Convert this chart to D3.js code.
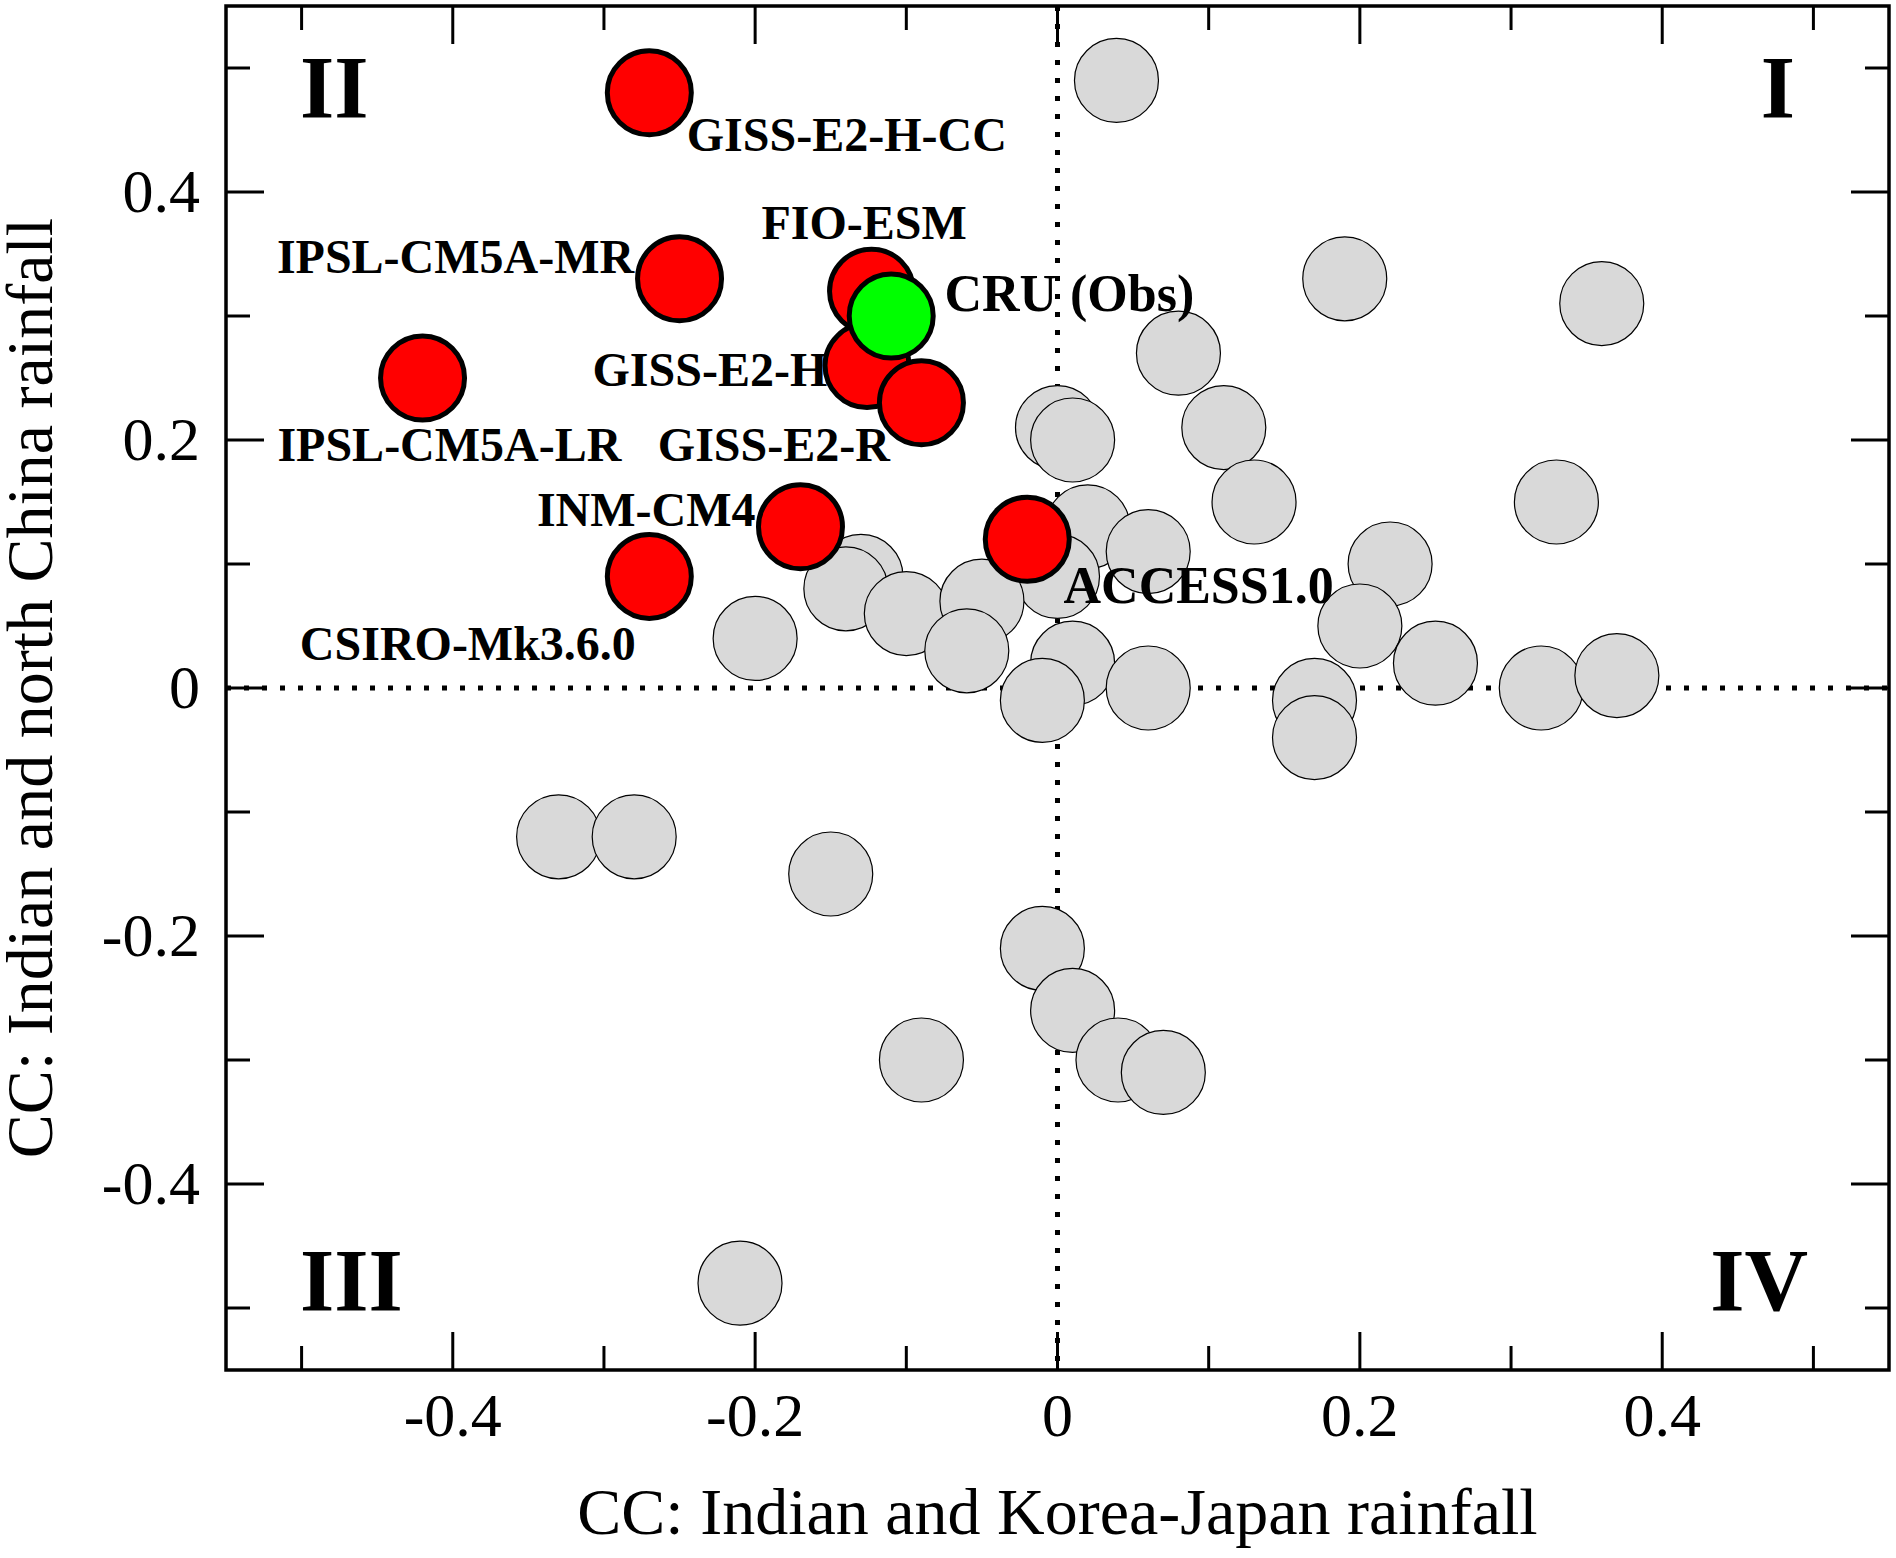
<!DOCTYPE html>
<html><head><meta charset="utf-8">
<script src="https://cdn.jsdelivr.net/npm/d3@7"></script>
<style>body{margin:0;background:#fff}text{font-family:"Liberation Serif","Times New Roman",serif}</style>
</head><body>
<svg id="chart" width="1896" height="1558"></svg>
<script>
// other CMIP5 models (grey)
var greyX = [0.039,0.19,0.36,0.08,0.0,0.01,0.11,0.13,0.33,0.02,0.06,0.0,0.22,0.20,-0.13,-0.14,-0.10,-0.05,-0.06,-0.20,0.01,0.06,-0.01,0.25,0.17,0.17,0.32,0.37,-0.33,-0.28,-0.15,-0.01,0.01,0.04,0.07,-0.09,-0.21];
var greyY = [0.49,0.33,0.31,0.27,0.21,0.20,0.21,0.15,0.15,0.13,0.11,0.09,0.10,0.05,0.09,0.08,0.06,0.07,0.03,0.04,0.02,0.0,-0.01,0.02,-0.01,-0.04,0.0,0.01,-0.12,-0.12,-0.15,-0.21,-0.26,-0.30,-0.31,-0.30,-0.48];
// selected models (red)
var redNames = ['GISS-E2-H-CC','IPSL-CM5A-MR','FIO-ESM','GISS-E2-H','GISS-E2-R','IPSL-CM5A-LR','INM-CM4','CSIRO-Mk3.6.0','ACCESS1.0'];
var redX = [-0.27,-0.25,-0.123,-0.126,-0.09,-0.42,-0.17,-0.27,-0.02];
var redY = [0.48,0.33,0.32,0.26,0.23,0.25,0.13,0.09,0.12];
var obsName = 'CRU (Obs)', obsX = -0.11, obsY = 0.30;
var ticks = [-0.4,-0.2,0,0.2,0.4];

// label offsets (display px, scaled below)
var k = 1.2092;
var labelOff = {
  'GISS-E2-H-CC':[31,48],'IPSL-CM5A-MR':[-333,-5],'FIO-ESM':[-91,-43],'GISS-E2-H':[-227,17],
  'GISS-E2-R':[-218,48],'IPSL-CM5A-LR':[-120,69],'INM-CM4':[-218,-1],'CSIRO-Mk3.6.0':[-289,69],'ACCESS1.0':[30,53]
};

var svg = d3.select('#chart');
var L=226,R=1889,T=6,B=1370;
var x = d3.scaleLinear().domain([-0.55,0.55]).range([L,R]);
var y = d3.scaleLinear().domain([-0.55,0.55]).range([B,T]);
var minor = d3.range(-0.5,0.51,0.1).map(function(d){return Math.round(d*10)/10;});

// zero lines
svg.append('line').attr('x1',x(0)).attr('x2',x(0)).attr('y1',T).attr('y2',B)
  .attr('stroke','#000').attr('stroke-width',5).attr('stroke-dasharray','5,13');
svg.append('line').attr('x1',L).attr('x2',R).attr('y1',y(0)).attr('y2',y(0))
  .attr('stroke','#000').attr('stroke-width',5).attr('stroke-dasharray','5,13');

// ticks inward on all sides
minor.forEach(function(v){
  var isMaj = Math.abs(Math.round(v*10)) % 2 === 0;
  var len = isMaj ? 38 : 24;
  svg.append('line').attr('x1',L).attr('x2',L+len).attr('y1',y(v)).attr('y2',y(v)).attr('stroke','#000').attr('stroke-width',3);
  svg.append('line').attr('x1',R).attr('x2',R-len).attr('y1',y(v)).attr('y2',y(v)).attr('stroke','#000').attr('stroke-width',3);
  svg.append('line').attr('y1',B).attr('y2',B-len).attr('x1',x(v)).attr('x2',x(v)).attr('stroke','#000').attr('stroke-width',3);
  svg.append('line').attr('y1',T).attr('y2',T+len).attr('x1',x(v)).attr('x2',x(v)).attr('stroke','#000').attr('stroke-width',3);
});
svg.append('rect').attr('x',L).attr('y',T).attr('width',R-L).attr('height',B-T)
  .attr('fill','none').attr('stroke','#000').attr('stroke-width',3.5);

ticks.forEach(function(v){
  var t = v===0 ? '0' : String(v);
  svg.append('text').attr('x',x(v)).attr('y',B+66).attr('text-anchor','middle').attr('font-size',62).text(t);
  svg.append('text').attr('x',L-26).attr('y',y(v)+20).attr('text-anchor','end').attr('font-size',62).text(t);
});

svg.append('text').attr('x',(L+R)/2).attr('y',1534).attr('text-anchor','middle').attr('font-size',66)
  .text('CC: Indian and Korea-Japan rainfall');
svg.append('text').attr('transform','translate(52,'+(T+B)/2+') rotate(-90)').attr('text-anchor','middle').attr('font-size',66)
  .text('CC: Indian and north China rainfall');

// quadrant numerals
var quads = [['II',300,117,'start'],['I',1795,117,'end'],['III',300,1310,'start'],['IV',1808,1310,'end']];
quads.forEach(function(q){
  svg.append('text').attr('x',q[1]).attr('y',q[2]).attr('text-anchor',q[3]).attr('font-size',88).attr('font-weight','bold').text(q[0]);
});

var r = 42;
svg.selectAll('circle.g').data(d3.range(greyX.length)).enter().append('circle')
  .attr('cx',function(i){return x(greyX[i]);}).attr('cy',function(i){return y(greyY[i]);}).attr('r',r)
  .attr('fill','#d9d9d9').attr('stroke','#000').attr('stroke-width',1.2);
svg.selectAll('circle.r').data(d3.range(redX.length)).enter().append('circle')
  .attr('cx',function(i){return x(redX[i]);}).attr('cy',function(i){return y(redY[i]);}).attr('r',r)
  .attr('fill','#ff0000').attr('stroke','#000').attr('stroke-width',5);
svg.append('circle').attr('cx',x(obsX)).attr('cy',y(obsY)).attr('r',r)
  .attr('fill','#00ff00').attr('stroke','#000').attr('stroke-width',5);

redNames.forEach(function(n,i){
  var o = labelOff[n];
  svg.append('text').attr('x',x(redX[i])+o[0]*k).attr('y',y(redY[i])+o[1]*k)
    .attr('font-size',n==='ACCESS1.0'?52:48).attr('font-weight','bold').text(n);
});
svg.append('text').attr('x',x(obsX)+44*k).attr('y',y(obsY)-4*k).attr('font-size',52).attr('font-weight','bold').text(obsName);
</script>
</body></html>
